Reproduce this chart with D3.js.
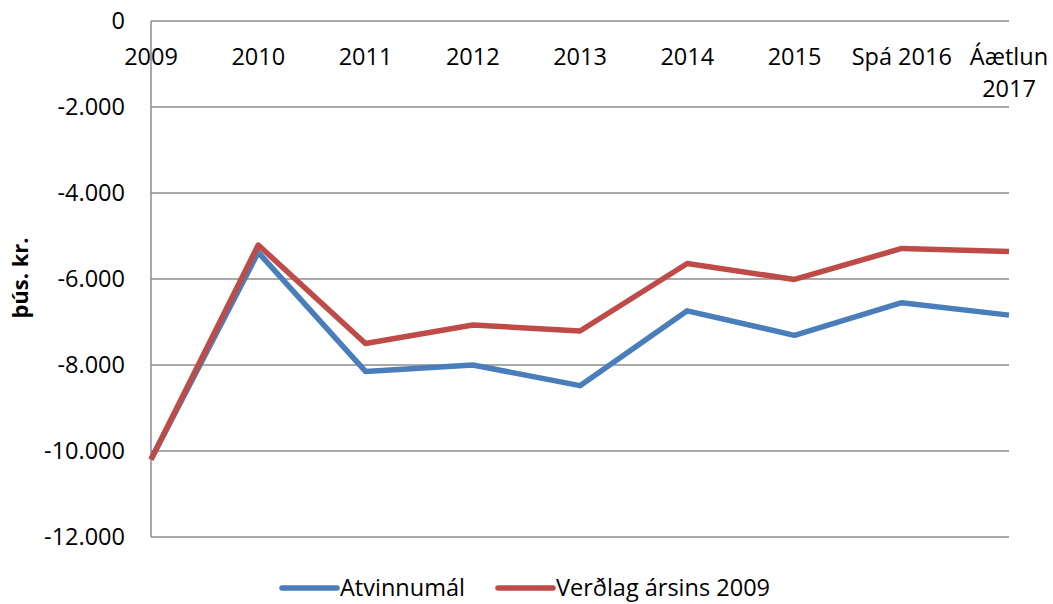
<!DOCTYPE html>
<html><head><meta charset="utf-8">
<script src="https://cdn.jsdelivr.net/npm/d3@7"></script>
<style>
html,body{margin:0;padding:0;background:#fff;}
svg text{font-family:"Open Sans","Noto Sans",sans-serif;fill:#000;}
</style></head>
<body><svg id="c" width="1053" height="604"></svg>
<script>
const categories = ["2009","2010","2011","2012","2013","2014","2015","Spá 2016","Áætlun\n2017"];
const atvinnumal = [-10200,-5380,-8150,-8000,-8480,-6740,-7310,-6550,-6840];
const verdlag = [-10200,-5210,-7500,-7070,-7210,-5640,-6010,-5290,-5360];
const yTicks = [0,-2000,-4000,-6000,-8000,-10000,-12000];
const seriesNames = ["Atvinnumál","Verðlag ársins 2009"];
const colors = ["#4A7EBB","#BE4B48"];

const FS = 23.5;
const svg = d3.select("#c");
const m = {left:151, right:1009, top:21, bottom:537};
const x = d3.scalePoint().domain(categories).range([m.left, m.right]).padding(0);
const y = d3.scaleLinear().domain([-12000,0]).range([m.bottom, m.top]);
const fmt = v => v===0 ? "0" : d3.format(",")(v).replace(/,/g,".").replace("−","-");

// gridlines
svg.append("g").selectAll("line").data(yTicks).join("line")
  .attr("x1", m.left).attr("x2", m.right)
  .attr("y1", d=>y(d)).attr("y2", d=>y(d))
  .attr("stroke","#8c8c8c").attr("stroke-width",1.5);
// y axis line
svg.append("line").attr("x1",m.left).attr("x2",m.left).attr("y1",m.top).attr("y2",m.bottom)
  .attr("stroke","#8c8c8c").attr("stroke-width",1.5);

// y axis labels
const yAxis = d3.axisLeft(y).tickValues(yTicks).tickFormat(fmt).tickSize(0).tickPadding(26);
const gy = svg.append("g").attr("transform",`translate(${m.left},0)`).call(yAxis);
gy.select(".domain").remove();
gy.selectAll("text").attr("font-size",FS).attr("fill","#000")
  .style("font-family",'"Open Sans","Noto Sans",sans-serif');

// x labels at top
const xl = svg.append("g").selectAll("text").data(categories).join("text")
  .attr("text-anchor","middle").attr("font-size",FS)
  .attr("x", d=>x(d)).attr("y", 65);
xl.each(function(d){
  const parts = d.split("\n");
  const t = d3.select(this);
  parts.forEach((p,i)=>t.append("tspan").attr("x",x(d)).attr("dy", i===0?0:32).text(p));
});

// y title
svg.append("text").attr("transform","translate(28,278) rotate(-90)")
  .attr("text-anchor","middle").attr("font-size",22).attr("font-weight","bold").text("þús. kr.");

// lines
const line = d3.line().x((d,i)=>x(categories[i])).y(d=>y(d));
[atvinnumal, verdlag].forEach((s,k)=>{
  svg.append("path").datum(s).attr("d",line).attr("fill","none")
    .attr("stroke",colors[k]).attr("stroke-width",5.5).attr("stroke-linejoin","round");
});

// legend
const lg = [{x:282,name:seriesNames[0],c:colors[0]},{x:498,name:seriesNames[1],c:colors[1]}];
lg.forEach(l=>{
  svg.append("line").attr("x1",l.x).attr("x2",l.x+55).attr("y1",588).attr("y2",588)
    .attr("stroke",l.c).attr("stroke-width",5.5).attr("stroke-linecap","round");
  svg.append("text").attr("x",l.x+58).attr("y",596).attr("font-size",FS).text(l.name);
});
</script></body></html>
